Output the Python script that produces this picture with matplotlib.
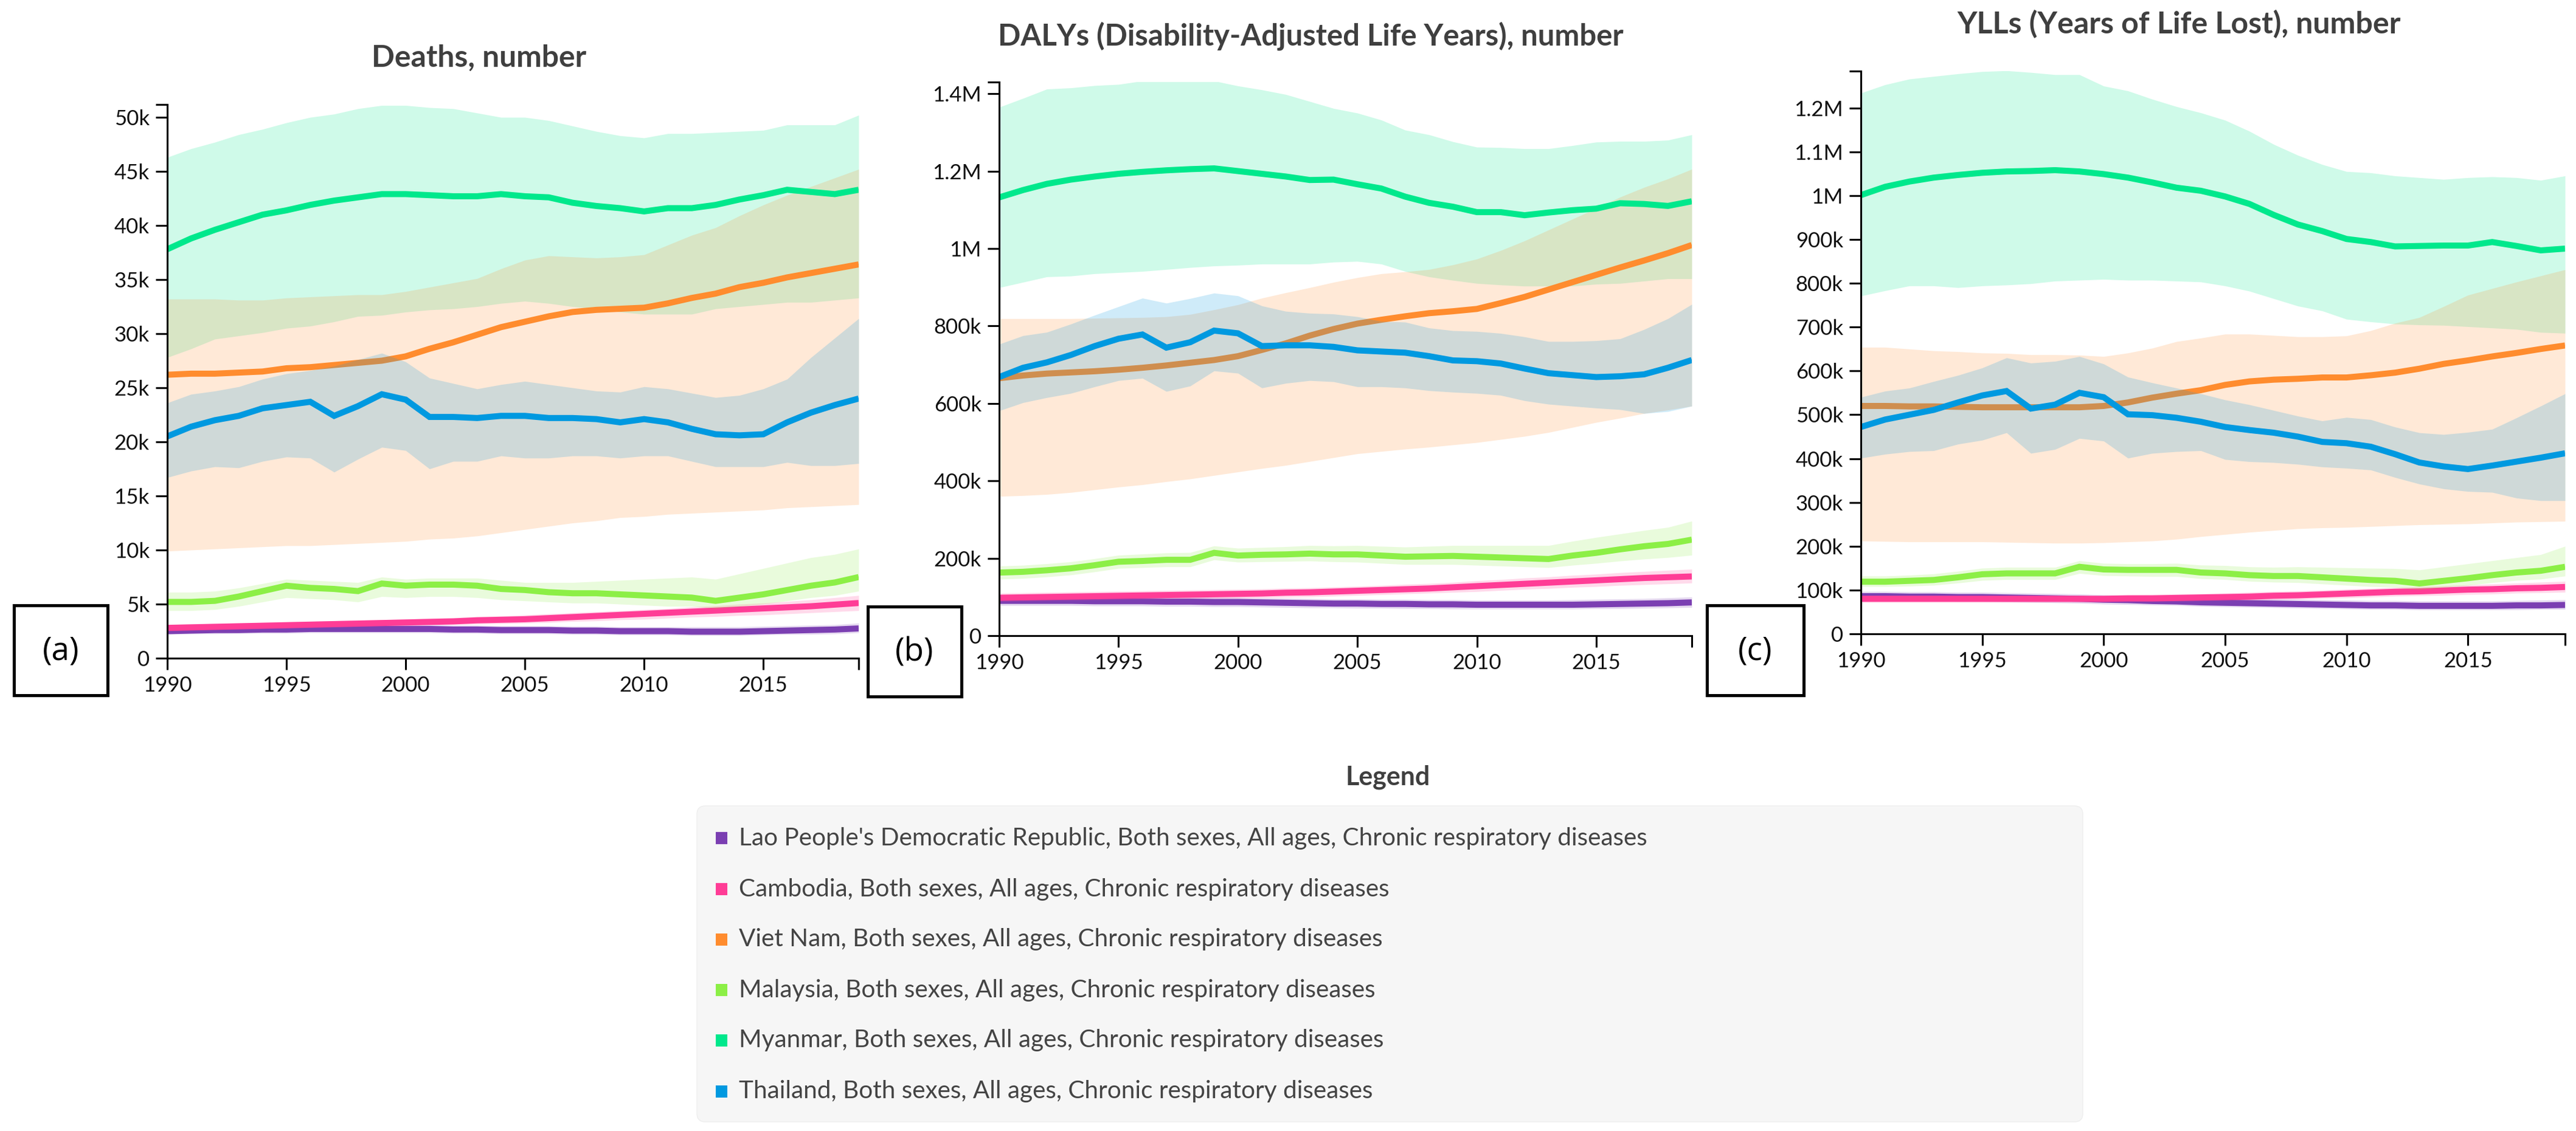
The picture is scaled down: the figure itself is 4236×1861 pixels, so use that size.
import matplotlib
matplotlib.use("Agg")
import matplotlib.pyplot as plt
from matplotlib.patches import FancyBboxPatch, Rectangle
import numpy as np

# ---------------- DATA ----------------
years = list(range(1990, 2020))

countries = ["Lao People's Democratic Republic", "Cambodia", "Viet Nam", "Malaysia", "Myanmar", "Thailand"]
colors = ["#7b3fb2", "#ff3d96", "#ff8c2e", "#8cef46", "#00e88c", "#0099e0"]
legend_suffix = ", Both sexes, All ages, Chronic respiratory diseases"
# drawing sequence: (series index, 'band' or 'line')
draw_sequence = [(0, 'band'), (0, 'line'), (1, 'band'), (1, 'line'), (3, 'band'), (3, 'line'),
                 (4, 'band'), (2, 'band'), (4, 'line'), (2, 'line'), (5, 'band'), (5, 'line')]

# Deaths (thousands)
deaths_lao = [2.5, 2.55, 2.6, 2.6, 2.65, 2.65, 2.7, 2.7, 2.7, 2.7, 2.7, 2.7, 2.65, 2.65, 2.6, 2.6, 2.6, 2.55, 2.55, 2.5, 2.5, 2.5, 2.45, 2.45, 2.45, 2.5, 2.55, 2.6, 2.65, 2.75]
deaths_lao_hi = [2.9, 2.95, 3.0, 3.0, 3.05, 3.05, 3.1, 3.1, 3.1, 3.1, 3.1, 3.1, 3.05, 3.05, 3.0, 3.0, 3.0, 2.95, 2.95, 2.9, 2.9, 2.9, 2.9, 2.9, 2.9, 2.95, 3.0, 3.05, 3.1, 3.25]
deaths_lao_lo = [2.2, 2.25, 2.25, 2.3, 2.3, 2.3, 2.35, 2.35, 2.35, 2.35, 2.35, 2.35, 2.3, 2.3, 2.25, 2.25, 2.25, 2.2, 2.2, 2.15, 2.15, 2.15, 2.1, 2.1, 2.1, 2.15, 2.2, 2.2, 2.25, 2.35]
deaths_cambodia = [2.8, 2.85, 2.9, 2.95, 3.0, 3.05, 3.1, 3.15, 3.2, 3.25, 3.3, 3.35, 3.4, 3.5, 3.55, 3.6, 3.7, 3.8, 3.9, 4.0, 4.1, 4.2, 4.3, 4.4, 4.5, 4.6, 4.7, 4.8, 4.95, 5.1]
deaths_cambodia_hi = [3.1, 3.15, 3.2, 3.25, 3.3, 3.35, 3.4, 3.45, 3.5, 3.55, 3.6, 3.7, 3.75, 3.85, 3.9, 4.0, 4.1, 4.2, 4.3, 4.4, 4.5, 4.6, 4.75, 4.85, 5.0, 5.1, 5.25, 5.4, 5.6, 5.8]
deaths_cambodia_lo = [2.5, 2.55, 2.6, 2.65, 2.7, 2.75, 2.8, 2.85, 2.9, 2.95, 3.0, 3.05, 3.1, 3.15, 3.2, 3.25, 3.3, 3.4, 3.45, 3.55, 3.6, 3.7, 3.8, 3.85, 3.95, 4.0, 4.1, 4.2, 4.3, 4.4]
deaths_vietnam = [26.2, 26.3, 26.3, 26.4, 26.5, 26.8, 26.9, 27.1, 27.3, 27.5, 27.9, 28.6, 29.2, 29.9, 30.6, 31.1, 31.6, 32.0, 32.2, 32.3, 32.4, 32.8, 33.3, 33.7, 34.3, 34.7, 35.2, 35.6, 36.0, 36.4]
deaths_vietnam_hi = [33.2, 33.2, 33.2, 33.1, 33.1, 33.3, 33.4, 33.5, 33.6, 33.6, 33.9, 34.3, 34.7, 35.1, 36.0, 36.8, 37.2, 37.1, 37.0, 37.1, 37.3, 38.2, 39.1, 39.8, 40.9, 41.9, 42.8, 43.6, 44.4, 45.2]
deaths_vietnam_lo = [9.9, 10.0, 10.1, 10.2, 10.3, 10.4, 10.4, 10.5, 10.6, 10.7, 10.8, 11.0, 11.1, 11.3, 11.6, 11.9, 12.2, 12.5, 12.7, 13.0, 13.1, 13.3, 13.4, 13.5, 13.6, 13.7, 13.9, 14.0, 14.1, 14.2]
deaths_malaysia = [5.2, 5.2, 5.3, 5.7, 6.2, 6.7, 6.5, 6.4, 6.2, 6.9, 6.7, 6.8, 6.8, 6.7, 6.4, 6.3, 6.1, 6.0, 6.0, 5.9, 5.8, 5.7, 5.6, 5.3, 5.6, 5.9, 6.3, 6.7, 7.0, 7.5]
deaths_malaysia_hi = [6.1, 6.1, 6.2, 6.5, 6.9, 7.3, 7.2, 7.1, 7.0, 7.5, 7.3, 7.4, 7.4, 7.4, 7.2, 7.0, 7.0, 7.0, 7.1, 7.2, 7.3, 7.4, 7.5, 7.3, 7.8, 8.3, 8.8, 9.3, 9.6, 10.1]
deaths_malaysia_lo = [4.4, 4.4, 4.5, 4.8, 5.2, 5.6, 5.5, 5.4, 5.2, 5.7, 5.6, 5.7, 5.7, 5.6, 5.4, 5.3, 5.2, 5.1, 5.1, 5.0, 4.9, 4.8, 4.8, 4.6, 4.8, 5.0, 5.3, 5.6, 5.8, 6.2]
deaths_myanmar = [37.8, 38.8, 39.6, 40.3, 41.0, 41.4, 41.9, 42.3, 42.6, 42.9, 42.9, 42.8, 42.7, 42.7, 42.9, 42.7, 42.6, 42.1, 41.8, 41.6, 41.3, 41.6, 41.6, 41.9, 42.4, 42.8, 43.3, 43.1, 42.9, 43.3]
deaths_myanmar_hi = [46.3, 47.1, 47.7, 48.4, 48.9, 49.5, 50.0, 50.3, 50.8, 51.1, 51.1, 50.9, 50.8, 50.4, 50.0, 50.0, 49.7, 49.2, 48.7, 48.3, 48.1, 48.5, 48.5, 48.6, 48.7, 48.8, 49.3, 49.3, 49.3, 50.2]
deaths_myanmar_lo = [27.8, 28.6, 29.5, 29.8, 30.1, 30.5, 30.7, 31.1, 31.6, 31.7, 32.0, 32.2, 32.3, 32.5, 32.8, 33.0, 32.8, 32.5, 32.3, 32.0, 31.8, 31.8, 31.8, 32.3, 32.5, 32.7, 32.9, 32.9, 33.1, 33.3]
deaths_thailand = [20.5, 21.4, 22.0, 22.4, 23.1, 23.4, 23.7, 22.4, 23.3, 24.4, 23.9, 22.3, 22.3, 22.2, 22.4, 22.4, 22.2, 22.2, 22.1, 21.8, 22.1, 21.8, 21.2, 20.7, 20.6, 20.7, 21.8, 22.7, 23.4, 24.0]
deaths_thailand_hi = [23.6, 24.4, 24.7, 25.1, 25.8, 26.3, 26.6, 27.0, 27.6, 28.2, 27.4, 25.9, 25.4, 24.9, 25.3, 25.6, 25.3, 25.0, 24.7, 24.6, 25.1, 24.9, 24.5, 24.1, 24.3, 24.9, 25.8, 27.8, 29.6, 31.4]
deaths_thailand_lo = [16.7, 17.3, 17.7, 17.6, 18.2, 18.6, 18.5, 17.2, 18.4, 19.5, 19.2, 17.5, 18.2, 18.2, 18.7, 18.5, 18.5, 18.7, 18.7, 18.5, 18.7, 18.7, 18.2, 17.7, 17.7, 17.7, 18.1, 17.8, 17.8, 18.0]

# DALYs (thousands)
dalys_lao = [90, 90, 90, 90, 89, 89, 89, 88, 88, 87, 87, 86, 85, 84, 83, 83, 82, 82, 81, 81, 80, 80, 80, 80, 80, 81, 82, 83, 84, 86]
dalys_lao_hi = [102, 102, 102, 102, 101, 101, 101, 100, 100, 99, 99, 98, 97, 96, 95, 95, 94, 94, 93, 93, 92, 92, 92, 92, 93, 94, 95, 96, 98, 100]
dalys_lao_lo = [78, 78, 78, 78, 77, 77, 77, 76, 76, 75, 75, 74, 73, 72, 72, 71, 71, 70, 70, 69, 69, 69, 69, 69, 69, 70, 70, 71, 72, 73]
dalys_cambodia = [98, 99, 100, 101, 102, 103, 104, 105, 106, 107, 108, 109, 111, 112, 114, 116, 118, 120, 122, 125, 128, 131, 134, 137, 140, 143, 146, 149, 151, 153]
dalys_cambodia_hi = [110, 111, 112, 113, 114, 115, 116, 117, 118, 119, 120, 121, 123, 124, 126, 128, 130, 133, 135, 138, 142, 145, 149, 152, 156, 159, 163, 166, 169, 172]
dalys_cambodia_lo = [88, 89, 90, 91, 92, 93, 94, 94, 95, 96, 97, 98, 99, 100, 102, 104, 106, 108, 110, 112, 114, 117, 120, 122, 125, 127, 130, 132, 134, 136]
dalys_vietnam = [665, 672, 677, 680, 683, 687, 692, 698, 705, 712, 722, 738, 755, 775, 792, 806, 816, 825, 833, 838, 844, 859, 875, 894, 913, 932, 951, 969, 988, 1009]
dalys_vietnam_hi = [819, 819, 819, 819, 820, 821, 822, 824, 830, 842, 855, 872, 886, 899, 913, 925, 935, 940, 946, 958, 973, 995, 1020, 1048, 1076, 1104, 1133, 1158, 1180, 1205]
dalys_vietnam_lo = [360, 362, 365, 370, 377, 384, 390, 398, 405, 414, 423, 432, 440, 450, 460, 470, 476, 482, 487, 493, 499, 507, 515, 525, 538, 551, 562, 574, 583, 593]
dalys_malaysia = [163, 165, 169, 174, 182, 191, 193, 196, 196, 214, 207, 209, 210, 212, 210, 210, 207, 204, 205, 206, 204, 202, 200, 198, 207, 214, 223, 231, 237, 248]
dalys_malaysia_hi = [180, 182, 186, 191, 199, 208, 211, 214, 215, 232, 226, 228, 230, 233, 232, 233, 231, 229, 231, 233, 233, 233, 233, 233, 244, 254, 263, 272, 280, 296]
dalys_malaysia_lo = [146, 148, 152, 157, 165, 174, 176, 178, 178, 196, 190, 191, 192, 193, 191, 190, 187, 184, 184, 184, 182, 180, 178, 176, 182, 187, 193, 198, 202, 208]
dalys_myanmar = [1132, 1151, 1167, 1178, 1186, 1193, 1198, 1202, 1205, 1207, 1200, 1193, 1186, 1177, 1178, 1166, 1155, 1134, 1118, 1108, 1094, 1094, 1086, 1093, 1099, 1103, 1117, 1115, 1110, 1122]
dalys_myanmar_hi = [1365, 1388, 1412, 1415, 1421, 1424, 1433, 1433, 1433, 1433, 1420, 1410, 1398, 1380, 1362, 1350, 1332, 1306, 1294, 1276, 1262, 1261, 1258, 1258, 1266, 1275, 1277, 1277, 1280, 1294]
dalys_myanmar_lo = [899, 913, 927, 929, 935, 938, 941, 946, 951, 955, 957, 960, 960, 960, 965, 967, 960, 941, 927, 918, 910, 906, 903, 903, 903, 908, 910, 916, 922, 922]
dalys_thailand = [668, 692, 706, 725, 748, 767, 778, 744, 758, 788, 781, 748, 750, 750, 746, 737, 734, 731, 722, 711, 709, 703, 690, 678, 673, 668, 670, 675, 692, 712]
dalys_thailand_hi = [753, 775, 784, 805, 828, 850, 872, 859, 871, 885, 878, 852, 838, 833, 831, 824, 812, 810, 795, 788, 786, 781, 772, 760, 760, 762, 767, 791, 819, 856]
dalys_thailand_lo = [581, 602, 615, 626, 643, 659, 665, 631, 645, 684, 678, 640, 652, 659, 656, 643, 643, 640, 633, 629, 626, 621, 607, 598, 593, 588, 584, 574, 579, 593]

# YLLs (thousands)
ylls_lao = [86, 86, 85, 85, 84, 84, 83, 82, 81, 80, 78, 77, 75, 74, 72, 71, 70, 69, 68, 67, 66, 65, 65, 64, 64, 64, 64, 65, 65, 66]
ylls_lao_hi = [97, 97, 96, 96, 95, 95, 94, 93, 92, 91, 89, 88, 86, 85, 83, 82, 81, 80, 79, 78, 77, 76, 76, 75, 75, 75, 75, 76, 77, 78]
ylls_lao_lo = [76, 76, 75, 75, 74, 74, 73, 72, 71, 70, 68, 67, 66, 65, 63, 62, 61, 60, 59, 58, 57, 56, 56, 55, 55, 55, 55, 55, 56, 56]
ylls_cambodia = [80, 80, 80, 80, 80, 80, 80, 80, 80, 80, 80, 81, 81, 82, 83, 84, 85, 87, 88, 90, 92, 94, 96, 97, 99, 101, 102, 104, 105, 107]
ylls_cambodia_hi = [88, 88, 88, 88, 88, 88, 88, 88, 88, 88, 88, 89, 90, 91, 92, 93, 95, 97, 98, 100, 102, 104, 106, 108, 110, 112, 114, 116, 118, 120]
ylls_cambodia_lo = [72, 72, 72, 72, 72, 72, 72, 72, 72, 72, 72, 73, 73, 74, 75, 76, 77, 78, 79, 81, 82, 84, 86, 87, 88, 90, 91, 93, 94, 95]
ylls_vietnam = [520, 520, 519, 519, 518, 517, 517, 517, 517, 517, 520, 528, 539, 548, 556, 568, 576, 580, 582, 585, 585, 590, 596, 605, 616, 624, 633, 641, 650, 658]
ylls_vietnam_hi = [654, 654, 650, 646, 644, 641, 640, 637, 637, 636, 633, 641, 652, 667, 675, 684, 684, 681, 678, 678, 680, 692, 709, 722, 747, 773, 788, 803, 817, 831]
ylls_vietnam_lo = [212, 211, 210, 210, 210, 210, 209, 208, 207, 207, 208, 210, 212, 216, 222, 227, 232, 236, 240, 242, 243, 245, 247, 249, 250, 251, 253, 255, 256, 257]
ylls_malaysia = [119, 119, 121, 123, 129, 136, 138, 138, 138, 153, 147, 146, 146, 146, 140, 138, 134, 132, 132, 129, 126, 123, 121, 115, 121, 127, 134, 140, 144, 153]
ylls_malaysia_hi = [132, 132, 134, 137, 143, 150, 152, 152, 152, 167, 161, 160, 160, 161, 157, 156, 153, 152, 153, 152, 151, 150, 149, 146, 153, 160, 167, 174, 181, 200]
ylls_malaysia_lo = [108, 108, 109, 111, 116, 122, 124, 124, 124, 138, 133, 132, 131, 131, 126, 124, 120, 118, 117, 114, 111, 108, 106, 101, 106, 111, 117, 122, 125, 132]
ylls_myanmar = [1001, 1020, 1032, 1041, 1047, 1052, 1055, 1056, 1058, 1055, 1049, 1041, 1030, 1018, 1011, 998, 981, 956, 934, 919, 901, 894, 884, 885, 886, 886, 894, 885, 875, 879]
ylls_myanmar_hi = [1234, 1253, 1266, 1272, 1278, 1283, 1285, 1281, 1276, 1276, 1250, 1239, 1220, 1203, 1189, 1172, 1147, 1117, 1092, 1071, 1055, 1052, 1045, 1041, 1037, 1041, 1043, 1041, 1035, 1045]
ylls_myanmar_lo = [771, 783, 794, 794, 790, 794, 796, 799, 805, 807, 809, 807, 807, 805, 803, 794, 782, 765, 748, 737, 718, 712, 707, 705, 704, 701, 698, 695, 688, 686]
ylls_thailand = [472, 489, 500, 511, 528, 544, 554, 514, 523, 550, 540, 501, 499, 493, 484, 472, 465, 459, 450, 438, 435, 427, 410, 391, 382, 376, 384, 393, 402, 412]
ylls_thailand_hi = [540, 554, 561, 576, 590, 607, 630, 618, 622, 633, 616, 586, 573, 561, 548, 534, 523, 510, 497, 486, 494, 489, 472, 459, 455, 460, 467, 493, 520, 548]
ylls_thailand_lo = [401, 410, 416, 418, 433, 442, 459, 412, 421, 446, 440, 401, 412, 416, 418, 398, 393, 391, 387, 381, 378, 374, 357, 342, 331, 325, 323, 310, 304, 304]

panel_titles = ["Deaths, number", "DALYs (Disability-Adjusted Life Years), number", "YLLs (Years of Life Lost), number"]
panel_letters = ["(a)", "(b)", "(c)"]
xtick_years = [1990, 1995, 2000, 2005, 2010, 2015]
deaths_yticks = [0, 5000, 10000, 15000, 20000, 25000, 30000, 35000, 40000, 45000, 50000]
deaths_ylabels = ["0", "5k", "10k", "15k", "20k", "25k", "30k", "35k", "40k", "45k", "50k"]
dalys_yticks = [0, 200000, 400000, 600000, 800000, 1000000, 1200000, 1400000]
dalys_ylabels = ["0", "200k", "400k", "600k", "800k", "1M", "1.2M", "1.4M"]
ylls_yticks = [0, 100000, 200000, 300000, 400000, 500000, 600000, 700000, 800000, 900000, 1000000, 1100000, 1200000]
ylls_ylabels = ["0", "100k", "200k", "300k", "400k", "500k", "600k", "700k", "800k", "900k", "1M", "1.1M", "1.2M"]
UNIT = 1000.0

panels = [
    dict(series=[(deaths_lao, deaths_lao_lo, deaths_lao_hi), (deaths_cambodia, deaths_cambodia_lo, deaths_cambodia_hi),
                 (deaths_vietnam, deaths_vietnam_lo, deaths_vietnam_hi), (deaths_malaysia, deaths_malaysia_lo, deaths_malaysia_hi),
                 (deaths_myanmar, deaths_myanmar_lo, deaths_myanmar_hi), (deaths_thailand, deaths_thailand_lo, deaths_thailand_hi)],
         yticks=deaths_yticks, ylabels=deaths_ylabels, ymax=51180,
         rect_px=(275, 172, 1412, 1083), title_xy=(788, 95), title_w=354, box=(23, 996, 177, 1144)),
    dict(series=[(dalys_lao, dalys_lao_lo, dalys_lao_hi), (dalys_cambodia, dalys_cambodia_lo, dalys_cambodia_hi),
                 (dalys_vietnam, dalys_vietnam_lo, dalys_vietnam_hi), (dalys_malaysia, dalys_malaysia_lo, dalys_malaysia_hi),
                 (dalys_myanmar, dalys_myanmar_lo, dalys_myanmar_hi), (dalys_thailand, dalys_thailand_lo, dalys_thailand_hi)],
         yticks=dalys_yticks, ylabels=dalys_ylabels, ymax=1430000,
         rect_px=(1643, 135, 2782, 1046), title_xy=(2155, 59), title_w=1026, box=(1427, 998, 1581, 1146)),
    dict(series=[(ylls_lao, ylls_lao_lo, ylls_lao_hi), (ylls_cambodia, ylls_cambodia_lo, ylls_cambodia_hi),
                 (ylls_vietnam, ylls_vietnam_lo, ylls_vietnam_hi), (ylls_malaysia, ylls_malaysia_lo, ylls_malaysia_hi),
                 (ylls_myanmar, ylls_myanmar_lo, ylls_myanmar_hi), (ylls_thailand, ylls_thailand_lo, ylls_thailand_hi)],
         yticks=ylls_yticks, ylabels=ylls_ylabels, ymax=1284000,
         rect_px=(3060, 117, 4218, 1043), title_xy=(3583, 40), title_w=730, box=(2807, 996, 2966, 1144)),
]

# ---------------- FIGURE ----------------
W, H = 4236, 1861
plt.rcParams['font.family'] = ['Lato', 'DejaVu Sans']
fig = plt.figure(figsize=(W / 100, H / 100), dpi=100)
renderer = fig.canvas.get_renderer()

overlay = fig.add_axes([0, 0, 1, 1], zorder=0)
overlay.set_xlim(0, W)
overlay.set_ylim(H, 0)
overlay.axis('off')


def fit_text(ax, x, y, s, width, **kw):
    t = ax.text(x, y, s, **kw)
    bb = t.get_window_extent(renderer=renderer)
    t.set_fontsize(t.get_fontsize() * width / bb.width)
    return t


LW = 7.2
TICK_FS = 25
for p_i, p in enumerate(panels):
    l, t, r, b = p['rect_px']
    ax = fig.add_axes([l / W, 1 - b / H, (r - l) / W, (b - t) / H], zorder=2)
    ax.patch.set_alpha(0)
    for z, (i, kind) in enumerate(draw_sequence):
        val, lo, hi = p['series'][i]
        if kind == 'band':
            ax.fill_between(years, np.array(lo) * UNIT, np.array(hi) * UNIT, color=colors[i], alpha=0.19,
                            linewidth=0, zorder=2 + z)
        else:
            ax.plot(years, np.array(val) * UNIT, color=colors[i], lw=LW, solid_joinstyle='miter',
                    solid_capstyle='butt', zorder=2 + z)
    ax.set_xlim(1990, 2019)
    ax.set_ylim(0, p['ymax'])
    for side in ['top', 'right']:
        ax.spines[side].set_visible(False)
    for side in ['left', 'bottom']:
        ax.spines[side].set_linewidth(2.2)
        ax.spines[side].set_color('black')
        ax.spines[side].set_zorder(30)
    ax.set_xticks(xtick_years)
    ax.set_xticklabels([str(y) for y in xtick_years])
    ax.set_xticks([2019], minor=True)
    ax.set_yticks(p['yticks'])
    ax.set_yticklabels(p['ylabels'])
    ax.set_yticks([p['ymax']], minor=True)
    ax.tick_params(axis='both', which='both', direction='out', length=14, width=2.2, color='black',
                   labelsize=TICK_FS, labelcolor='#111111')
    ax.tick_params(axis='x', which='major', pad=7)
    ax.tick_params(axis='y', which='major', pad=7)

    # title
    fit_text(overlay, p['title_xy'][0], p['title_xy'][1], panel_titles[p_i], p['title_w'],
             ha='center', va='center', fontsize=30, fontweight='bold', color='#3f3f3f')
    # letter box
    bx0, by0, bx1, by1 = p['box']
    overlay.add_patch(Rectangle((bx0, by0), bx1 - bx0, by1 - by0, fill=True, facecolor='white',
                                edgecolor='black', linewidth=3.6, zorder=5))
    overlay.text((bx0 + bx1) / 2, (by0 + by1) / 2 + 2, panel_letters[p_i], ha='center', va='center',
                 fontsize=38, color='black', zorder=6, family=['Open Sans', 'DejaVu Sans'])

# ---------------- LEGEND ----------------
fit_text(overlay, 2282, 1279, "Legend", 139, ha='center', va='center', fontsize=24,
         fontweight='bold', color='#3f3f3f')
overlay.add_patch(FancyBboxPatch((1146, 1326), 2279, 520, boxstyle="round,pad=0,rounding_size=14",
                                 facecolor='#f6f6f6', edgecolor='#eeeeee', linewidth=1, zorder=1))
row_y = [1379, 1463, 1546, 1629, 1712, 1796]
ref = fit_text(overlay, 1215, row_y[0], countries[0] + legend_suffix, 1492, ha='left', va='center',
               fontsize=26, color='#444444', zorder=3)
legend_fs = ref.get_fontsize()
for i in range(1, 6):
    overlay.text(1215, row_y[i], countries[i] + legend_suffix, ha='left', va='center',
                 fontsize=legend_fs, color='#444444', zorder=3)
for i in range(6):
    overlay.add_patch(Rectangle((1177, row_y[i] - 10), 19, 20, facecolor=colors[i], edgecolor='none', zorder=3))

fig.savefig("out.png", dpi=100)
